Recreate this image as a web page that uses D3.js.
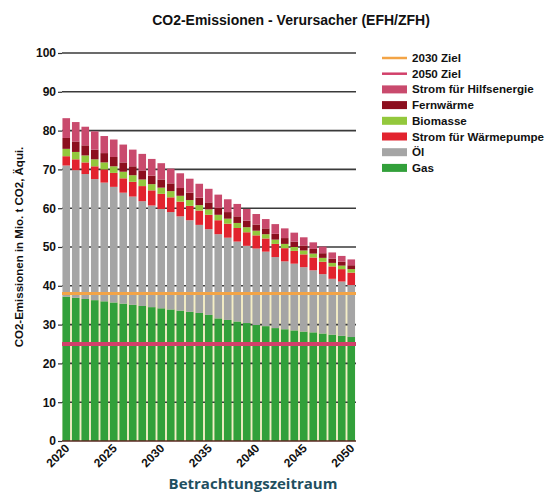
<!DOCTYPE html>
<html>
<head>
<meta charset="utf-8">
<script src="https://cdn.jsdelivr.net/npm/d3@7/dist/d3.min.js"></script>
<style>
  html, body { margin: 0; padding: 0; background: #fff; }
  svg { display: block; }
  text { font-family: "Liberation Sans", Arial, sans-serif; }
</style>
</head>
<body>
<svg id="chart" width="551" height="494"></svg>
<script>
// Jahre des Betrachtungszeitraums
const years = d3.range(2020, 2051);

// Emissionen je Verursacher in Mio. t CO2-Äquivalent (gestapelt von unten nach oben)
const gas = [37.2, 36.9, 36.6, 36.3, 36.0, 35.7, 35.4, 35.1, 34.8, 34.5, 34.2,
             33.9, 33.6, 33.3, 33.0, 32.5, 31.6, 31.2, 30.8, 30.4, 29.9,
             29.6, 29.1, 28.8, 28.5, 28.2, 28.0, 27.7, 27.4, 27.1, 26.8];
const oel = [33.8, 32.9, 32.2, 31.2, 30.6, 29.8, 28.6, 27.9, 27.0, 26.2, 25.6,
             25.1, 24.3, 23.6, 22.7, 22.1, 21.7, 21.2, 20.6, 19.9, 19.7,
             19.2, 18.3, 17.5, 17.2, 16.6, 16.0, 15.3, 14.4, 14.0, 13.4];
const stromWP = [2.4, 2.8, 3.0, 3.3, 3.4, 3.6, 3.7, 3.8, 3.9, 3.9, 3.9,
                 3.8, 3.8, 3.7, 3.7, 3.7, 3.6, 3.6, 3.5, 3.5, 3.4,
                 3.4, 3.4, 3.4, 3.3, 3.3, 3.3, 3.2, 3.2, 3.2, 3.2];
const biomasse = [1.9, 1.9, 1.8, 1.8, 1.8, 1.7, 1.7, 1.7, 1.7, 1.6, 1.6,
                  1.6, 1.5, 1.5, 1.4, 1.4, 1.4, 1.3, 1.3, 1.3, 1.2,
                  1.1, 1.1, 1.1, 1.0, 1.0, 1.0, 1.0, 0.9, 0.9, 0.9];
const fernwaerme = [2.8, 2.7, 2.6, 2.5, 2.4, 2.4, 2.4, 2.3, 2.3, 2.2, 2.1,
                    2.0, 2.0, 1.9, 1.9, 1.8, 1.8, 1.7, 1.7, 1.7, 1.6,
                    1.5, 1.5, 1.5, 1.4, 1.3, 1.2, 1.2, 1.1, 1.0, 1.0];
const hilfsenergie = [5.1, 5.0, 4.8, 4.7, 4.4, 4.5, 4.6, 4.3, 4.3, 4.3, 4.2,
                      3.8, 3.8, 3.6, 3.6, 3.5, 3.4, 3.3, 3.2, 3.0, 2.7,
                      2.4, 2.5, 2.5, 2.3, 2.1, 1.7, 1.7, 1.6, 1.5, 1.5];

// Zielwerte
const ziel2030 = 38;
const ziel2050 = 25;

// Achsenbeschriftungen
const yTicks = [0, 10, 20, 30, 40, 50, 60, 70, 80, 90, 100];
const xTickYears = [2020, 2025, 2030, 2035, 2040, 2045, 2050];

const seriesKeys = ["gas", "oel", "stromWP", "biomasse", "fernwaerme", "hilfsenergie"];
const seriesData = { gas, oel, stromWP, biomasse, fernwaerme, hilfsenergie };
const colors = {
  gas: "#32a03a",
  oel: "#a5a5a5",
  stromWP: "#e2232e",
  biomasse: "#93c83c",
  fernwaerme: "#8c0f1e",
  hilfsenergie: "#c94a6d",
  ziel2030: "#f3a446",
  ziel2050: "#d2406a"
};

const table = years.map((yr, i) => {
  const row = { year: yr };
  seriesKeys.forEach(k => row[k] = seriesData[k][i]);
  return row;
});

const svg = d3.select("#chart");

const x = d3.scaleBand()
  .domain(years)
  .range([61.5, 356])
  .paddingInner(0.2)
  .paddingOuter(0.1);

const y = d3.scaleLinear().domain([0, 100]).range([441, 53]);

const plotLeft = 62, plotRight = 356;

// Titel
svg.append("text")
  .attr("x", 291).attr("y", 25)
  .attr("text-anchor", "middle")
  .style("font-size", "14px").style("font-weight", "bold")
  .attr("fill", "#111")
  .text("CO2-Emissionen - Verursacher (EFH/ZFH)");

// heller Hintergrund unterhalb des 2030-Ziels
svg.append("rect")
  .attr("x", x(years[0]))
  .attr("width", x(years[years.length - 1]) + x.bandwidth() - x(years[0]))
  .attr("y", y(ziel2030))
  .attr("height", y(0) - y(ziel2030))
  .attr("fill", "#f4eec6");

// Gitternetzlinien
svg.append("g")
  .selectAll("line")
  .data(yTicks.filter(d => d > 0))
  .join("line")
  .attr("x1", plotLeft).attr("x2", plotRight)
  .attr("y1", d => y(d)).attr("y2", d => y(d))
  .attr("stroke", "#3a3a3a").attr("stroke-width", 1.6);

// Gestapelte Balken
const stack = d3.stack().keys(seriesKeys)(table);
svg.append("g")
  .selectAll("g")
  .data(stack)
  .join("g")
  .attr("fill", d => colors[d.key])
  .selectAll("rect")
  .data(d => d)
  .join("rect")
  .attr("x", d => x(d.data.year))
  .attr("width", x.bandwidth())
  .attr("y", d => y(d[1]))
  .attr("height", d => y(d[0]) - y(d[1]));

// Ziellinien
[["ziel2030", ziel2030, 3], ["ziel2050", ziel2050, 4]].forEach(([k, v, w]) => {
  svg.append("line")
    .attr("x1", plotLeft).attr("x2", plotRight)
    .attr("y1", y(v)).attr("y2", y(v))
    .attr("stroke", colors[k]).attr("stroke-width", w);
});

// y-Achse
const yAxis = svg.append("g")
  .attr("transform", `translate(${plotLeft},0)`)
  .call(d3.axisLeft(y).tickValues(yTicks).tickSize(4).tickPadding(2));
yAxis.select(".domain").remove();
yAxis.selectAll(".tick line").attr("stroke", "#333").attr("stroke-width", 1.2);
yAxis.selectAll(".tick text")
  .style("font-size", "12px").style("font-weight", "bold")
  .style("font-family", '"Liberation Sans", Arial, sans-serif')
  .attr("fill", "#111");

// x-Achse
svg.append("line")
  .attr("x1", plotLeft).attr("x2", plotRight)
  .attr("y1", y(0)).attr("y2", y(0))
  .attr("stroke", "#5a2a22").attr("stroke-width", 1.5);

const xAxis = svg.append("g")
  .attr("transform", `translate(0,${y(0)})`)
  .call(d3.axisBottom(x).tickValues(xTickYears).tickSize(0).tickPadding(0));
xAxis.select(".domain").remove();
xAxis.selectAll(".tick text")
  .attr("text-anchor", "end")
  .attr("dy", 0)
  .attr("transform", "translate(4,8) rotate(-45)")
  .style("font-size", "12px").style("font-weight", "bold")
  .style("font-family", '"Liberation Sans", Arial, sans-serif')
  .attr("fill", "#111");

// Achsentitel
svg.append("text")
  .attr("transform", "translate(23,247) rotate(-90)")
  .attr("text-anchor", "middle")
  .style("font-size", "11.5px").style("font-weight", "bold")
  .attr("fill", "#111")
  .text("CO2-Emissionen in Mio. t CO2, Äqui.");

svg.append("text")
  .attr("x", 253).attr("y", 489)
  .attr("text-anchor", "middle")
  .style("font-family", '"Open Sans", sans-serif')
  .style("font-size", "15px").style("font-weight", "bold")
  .attr("fill", "#1f4f5f")
  .text("Betrachtungszeitraum");

// Legende
const legendItems = [
  { key: "ziel2030", label: "2030 Ziel", type: "line" },
  { key: "ziel2050", label: "2050 Ziel", type: "line" },
  { key: "hilfsenergie", label: "Strom für Hilfsenergie", type: "rect" },
  { key: "fernwaerme", label: "Fernwärme", type: "rect" },
  { key: "biomasse", label: "Biomasse", type: "rect" },
  { key: "stromWP", label: "Strom für Wärmepumpe", type: "rect" },
  { key: "oel", label: "Öl", type: "rect" },
  { key: "gas", label: "Gas", type: "rect" }
];
const legend = svg.append("g").attr("transform", "translate(382,58)");
const li = legend.selectAll("g")
  .data(legendItems)
  .join("g")
  .attr("transform", (d, i) => `translate(0,${i * 15.7})`);
li.filter(d => d.type === "line").append("line")
  .attr("x1", 0).attr("x2", 25).attr("y1", 0).attr("y2", 0)
  .attr("stroke", d => colors[d.key]).attr("stroke-width", 2.5);
li.filter(d => d.type === "rect").append("rect")
  .attr("x", 0).attr("y", -4).attr("width", 25).attr("height", 8)
  .attr("fill", d => colors[d.key]);
li.append("text")
  .attr("x", 30).attr("y", 4)
  .style("font-size", "11.6px").style("font-weight", "bold")
  .attr("fill", "#111")
  .text(d => d.label);
</script>
</body>
</html>
